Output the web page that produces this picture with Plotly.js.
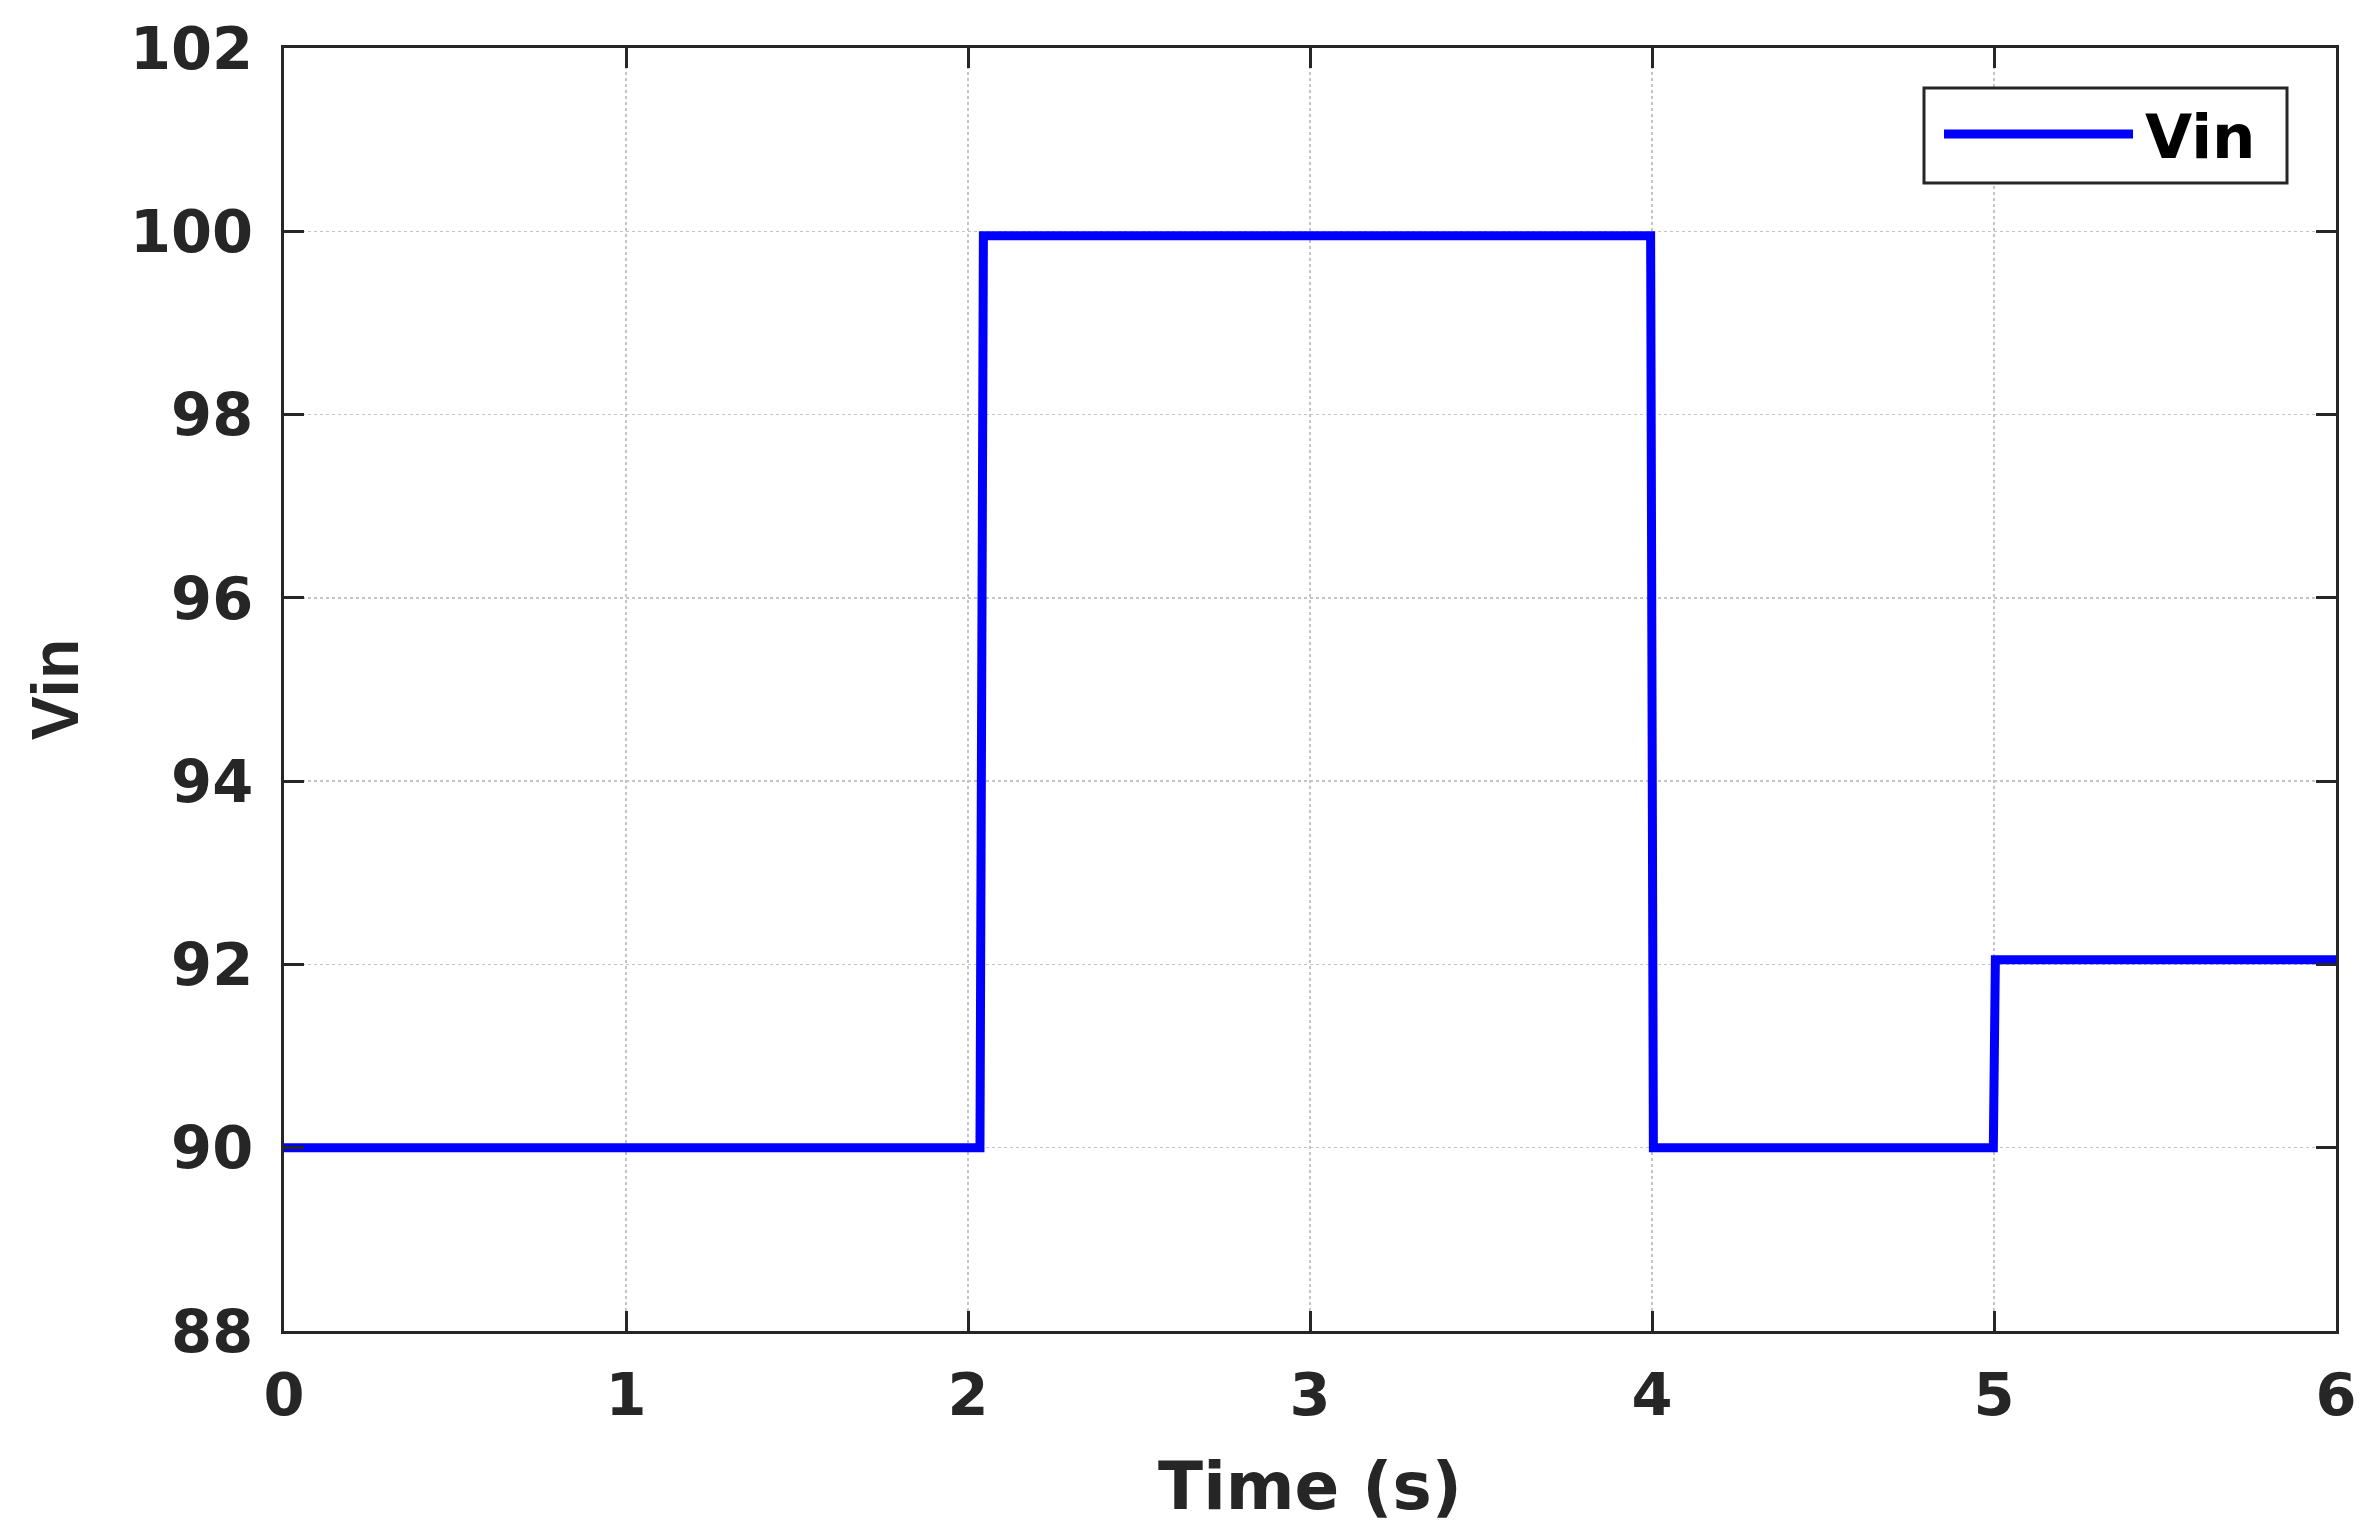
<!DOCTYPE html>
<html>
<head>
<meta charset="utf-8">
<script src="https://cdn.plot.ly/plotly-3.0.1.min.js"></script>
<style>
  html, body { margin: 0; padding: 0; background: #ffffff; }
  #chart { width: 2375px; height: 1538px; }
</style>
</head>
<body>
<div id="chart"></div>
<script>
// Data
const timeS = [0, 2.035, 2.045, 3.996, 4.004, 4.998, 5.004, 6];
const vin   = [90, 90, 99.95, 99.95, 90, 90, 92.05, 92.05];
const seriesName = 'Vin';
const xTickVals = [0, 1, 2, 3, 4, 5, 6];
const yTickVals = [88, 90, 92, 94, 96, 98, 100, 102];

const textColor = '#262626';
const tickFont = { family: 'DejaVu Sans', size: 59, color: textColor, weight: 'bold' };

const trace = {
  x: timeS, y: vin, type: 'scatter', mode: 'lines', name: seriesName,
  line: { color: '#0000ff', width: 9 }, showlegend: false
};

const W = 2375, H = 1538, L = 284, R = 39, T = 48, B = 207;
const pw = W - L - R, ph = H - T - B;
const px = v => (v - L) / pw;
const py = v => (H - B - v) / ph;

const layout = {
  width: W, height: H,
  margin: { l: L, r: R, t: T, b: B, pad: 0 },
  paper_bgcolor: '#ffffff', plot_bgcolor: '#ffffff',
  xaxis: {
    range: [0, 6], tickvals: xTickVals, ticktext: xTickVals.map(String),
    showgrid: true, gridcolor: '#c4c4c4', gridwidth: 1.5, griddash: 'dot',
    zeroline: false, showline: true, linecolor: textColor, linewidth: 3,
    mirror: 'ticks', ticks: 'inside', ticklen: 20, tickwidth: 3, tickcolor: textColor,
    tickfont: tickFont, ticklabelstandoff: 10,
    title: { text: 'Time (s)', font: { family: 'DejaVu Sans', size: 66, color: textColor, weight: 'bold' }, standoff: 36 }
  },
  yaxis: {
    range: [88, 102], tickvals: yTickVals, ticktext: yTickVals.map(String),
    showgrid: true, gridcolor: '#c4c4c4', gridwidth: 1.5, griddash: 'dot',
    zeroline: false, showline: true, linecolor: textColor, linewidth: 3,
    mirror: 'ticks', ticks: 'inside', ticklen: 20, tickwidth: 3, tickcolor: textColor,
    tickfont: tickFont, ticklabelstandoff: 16,
    title: { text: 'Vin', font: { family: 'Liberation Sans', size: 66, color: textColor, weight: 'bold' }, standoff: 30 }
  },
  shapes: [
    { type: 'rect', xref: 'paper', yref: 'paper', x0: px(1924), x1: px(2287), y0: py(183), y1: py(88),
      line: { color: textColor, width: 3 }, fillcolor: '#ffffff', layer: 'above' },
    { type: 'line', xref: 'paper', yref: 'paper', x0: px(1944), x1: px(2133), y0: py(134), y1: py(134),
      line: { color: '#0000ff', width: 9 }, layer: 'above' }
  ],
  annotations: [
    { xref: 'paper', yref: 'paper', x: px(2143), y: py(137), xanchor: 'left', yanchor: 'middle',
      text: seriesName, showarrow: false,
      font: { family: 'DejaVu Sans', size: 61, color: '#000000', weight: 'bold' } }
  ]
};

Plotly.newPlot('chart', [trace], layout, { staticPlot: true, displayModeBar: false });
</script>
</body>
</html>
